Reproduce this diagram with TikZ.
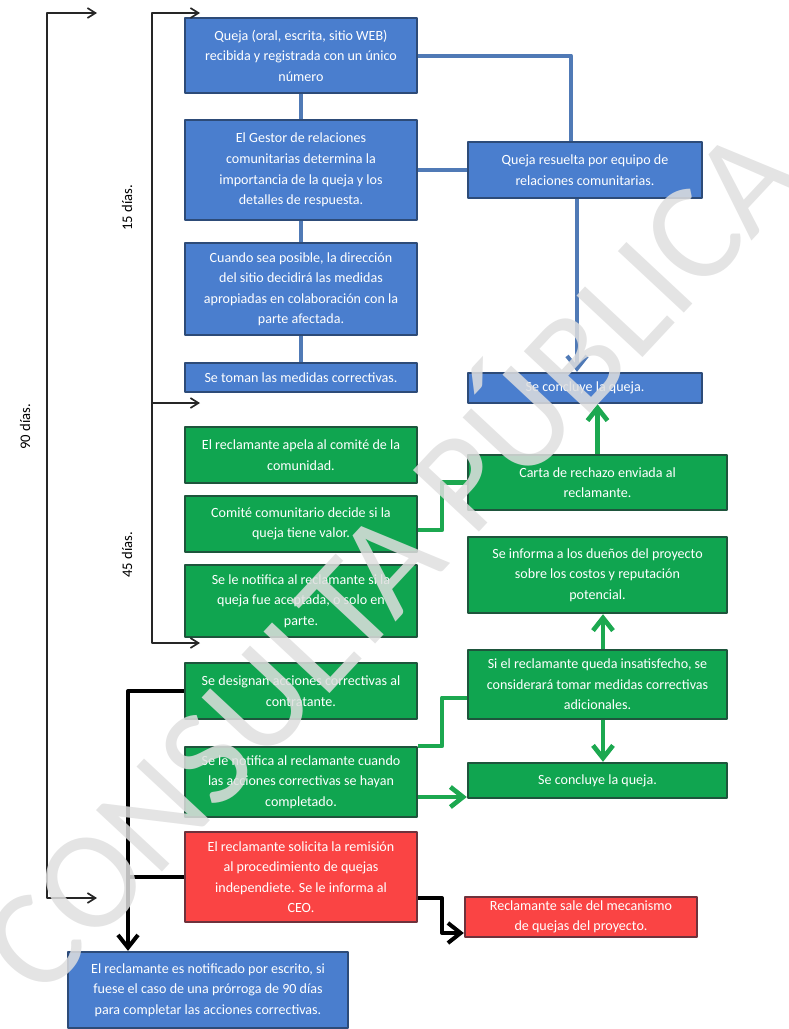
\documentclass[tikz,border=0pt]{standalone}
\usepackage{fontspec}
\setmainfont{Carlito}
\newfontfamily\marcafont{Carlito}
\usetikzlibrary{arrows.meta}
\definecolor{azulcaja}{RGB}{74,126,206}
\definecolor{azulborde}{RGB}{45,75,120}
\definecolor{azullinea}{RGB}{80,122,182}
\definecolor{verdecaja}{RGB}{16,165,80}
\definecolor{verdeborde}{RGB}{30,85,60}
\definecolor{verdelinea}{RGB}{28,168,80}
\definecolor{rojocaja}{RGB}{250,68,68}
\definecolor{rojoborde}{RGB}{110,50,60}
\begin{document}
\begin{tikzpicture}[x=0.3mm, y=-0.3mm, line join=round,
  >={Straight Barb[length=2.4mm,width=3mm]},
  flecha/.style={-{Straight Barb[length=3.8mm,width=6mm]}},
  tam/.style 2 args={minimum width=#1*0.3mm, minimum height=#2*0.3mm},
  caja/.style={draw, line width=0.7mm, text=white, align=center, inner sep=0pt,
    font=\fontsize{12}{17.5}\selectfont},
  cajaazul/.style={caja, fill=azulcaja, draw=azulborde},
  cajaverde/.style={caja, fill=verdecaja, draw=verdeborde},
  cajaroja/.style={caja, fill=rojocaja, draw=rojoborde},
  linazul/.style={azullinea, line width=1.2mm},
  linverde/.style={verdelinea, line width=1.4mm},
  linnegra/.style={black, line width=1.2mm},
  corchete/.style={black!85, line width=0.5mm},
  plazo/.style={rotate=90, font=\fontsize{12.5}{14}\selectfont}]
\useasboundingbox (0,0) rectangle (788,1029);
% Columna izquierda
\node[cajaazul, tam={232}{75}] (B1) at (301,55.5) {Queja (oral, escrita, sitio WEB)\\ recibida y registrada con un único\\ número};
\node[cajaazul, tam={232}{100}] (B2) at (301,170) {El Gestor de relaciones\\ comunitarias determina la\\ importancia de la queja y los\\ detalles de respuesta.};
\node[cajaazul, tam={232}{92}] (B3) at (301,289) {Cuando sea posible, la dirección\\ del sitio decidirá las medidas\\ apropiadas en colaboración con la\\ parte afectada.};
\node[cajaazul, tam={232}{29}] (B4) at (301,377.5) {Se toman las medidas correctivas.};
\node[cajaverde, tam={232}{56}] (G1) at (301,455) {El reclamante apela al comité de la\\ comunidad.};
\node[cajaverde, tam={232}{56}] (G2) at (301,524) {Comité comunitario decide si la\\ queja tiene valor.};
\node[cajaverde, tam={232}{72}] (G3) at (301,601) {Se le notifica al reclamante si la\\ queja fue aceptada, o solo en\\ parte.};
\node[cajaverde, tam={232}{56}] (G4) at (301,691) {Se designan acciones correctivas al\\ contratante.};
\node[cajaverde, tam={232}{70}] (G5) at (301,782) {Se le notifica al reclamante cuando\\ las acciones correctivas se hayan\\ completado.};
\node[cajaroja, tam={232}{90}] (R1) at (301,877) {El reclamante solicita la remisión\\ al procedimiento de quejas\\ independiete. Se le informa al\\ CEO.};
\node[cajaazul, tam={280}{76}] (final) at (208,990) {El reclamante es notificado por escrito, si\\ fuese el caso de una prórroga de 90 días\\ para completar las acciones correctivas.};
% Columna derecha
\node[cajaazul, tam={234}{56}] (resuelta) at (585,170) {Queja resuelta por equipo de\\ relaciones comunitarias.};
\node[cajaazul, tam={234}{30}] (concB) at (585,388) {Se concluye la queja.};
\node[cajaverde, tam={259}{55}] (carta) at (597.5,482.5) {Carta de rechazo enviada al\\ reclamante.};
\node[cajaverde, tam={259}{76}] (informa) at (597.5,575) {Se informa a los dueños del proyecto\\ sobre los costos y reputación\\ potencial.};
\node[cajaverde, tam={259}{69}] (siel) at (597.5,684.5) {Si el reclamante queda insatisfecho, se\\ considerará tomar medidas correctivas\\ adicionales.};
\node[cajaverde, tam={259}{35}] (concG) at (597.5,780.5) {Se concluye la queja.};
\node[cajaroja, tam={232}{40}] (R2) at (581,917) {Reclamante sale del mecanismo\\ de quejas del proyecto.};
% Puntos de giro
\coordinate (giro) at (571,0);
\coordinate (baja) at (577,0);
\coordinate (codo) at (442,0);
\coordinate (eje) at (603,0);
\coordinate (bajada) at (128,0);
\coordinate (siel-in) at ([yshift=-4mm]siel.west);
\coordinate (g5-out) at ([yshift=-4.5mm]G5.east);
\coordinate (r1-out) at ([yshift=-6.3mm]R1.east);
\coordinate (r2-in) at ([yshift=-4.8mm]R2.west);
% Conectores azules
\draw[linazul] (B1) -- (B2);
\draw[linazul] (B2) -- (B3);
\draw[linazul] (B3) -- (B4);
\draw[linazul] (B1.east) -| (resuelta.north -| giro);
\draw[linazul] (B2.east) -- (resuelta.west);
\draw[linazul, flecha] (resuelta.south -| baja) -- (concB.north -| baja);
% Conectores verdes
\draw[linverde, flecha] (carta.north) -- (carta.north |- concB.south);
\draw[linverde] ([yshift=-1.8mm]G2.east) -| (codo |- carta.west) -- (carta.west);
\draw[linverde, flecha] (siel.north -| eje) -- (informa.south -| eje);
\draw[linverde, flecha] (siel.south -| eje) -- (concG.north -| eje);
\draw[linverde] (G5.north east) -| (codo |- siel-in) -- (siel-in);
\draw[linverde, flecha] (g5-out) -- (g5-out -| concG.west);
% Conectores negros
\draw[linnegra, flecha] (G4.west) -| (final.north -| bajada);
\draw[linnegra] (R1.west) -- (R1.west -| bajada);
\draw[linnegra, flecha] (r1-out) -| (codo |- r2-in) -- (r2-in);
% Plazos
\coordinate (p90a) at (97,13);
\coordinate (c90a) at (47,13);
\coordinate (c90b) at (47,898);
\coordinate (p90b) at (97,898);
\coordinate (p15a) at (200,13);
\coordinate (c15a) at (152,13);
\coordinate (c15b) at (152,403);
\coordinate (p15b) at (200,403);
\coordinate (c45b) at (152,643);
\coordinate (p45b) at (200,643);
\draw[corchete, <->] (p90a) -- (c90a) -- (c90b) -- (p90b);
\draw[corchete, <->] (p15a) -- (c15a) -- (c15b) -- (p15b);
\draw[corchete, ->] (c15b) -- (c45b) -- (p45b);
\node[plazo] (d90) at (25,427) {90 días.};
\node[plazo] (d15) at (127,208) {15 días.};
\node[plazo] (d45) at (127,555) {45 días.};
% Marca de agua
\node[rotate=47, text=gray!25, text opacity=0.85, inner sep=0pt,
  font=\marcafont\fontsize{120}{120}\selectfont] (marca) at (382,552) {CONSULTA PÚBLICA};
\end{tikzpicture}
\end{document}
